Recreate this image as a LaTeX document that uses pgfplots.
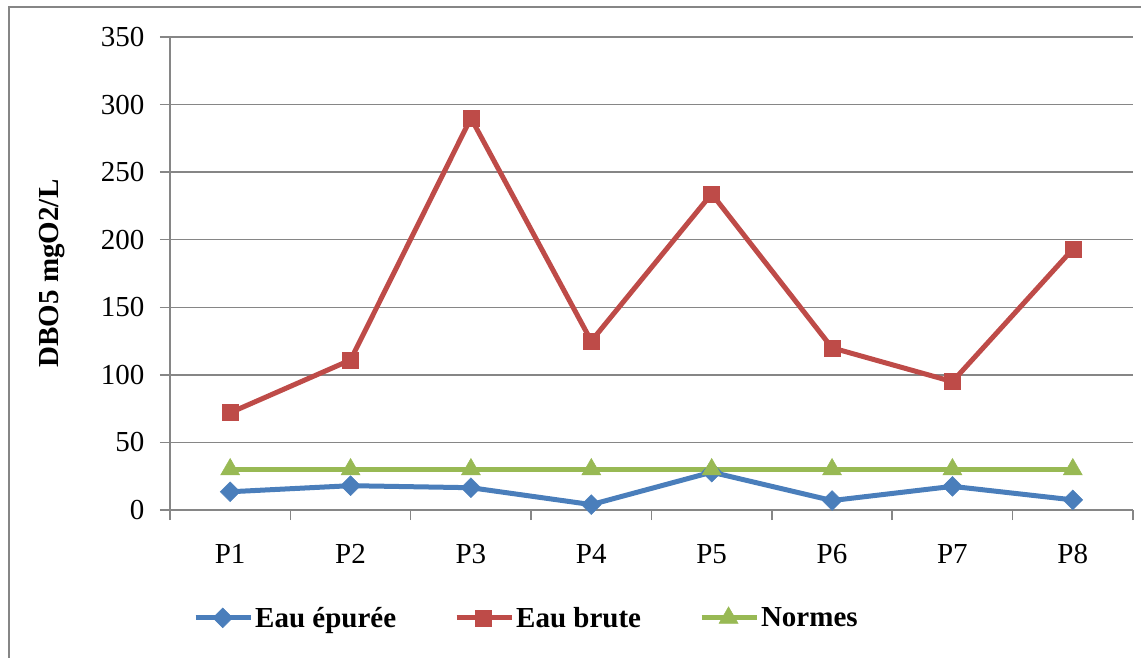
\documentclass[border=0pt]{standalone}
\usepackage{fontspec}
\setmainfont{Liberation Serif}
\usepackage{pgfplots}
\pgfplotsset{compat=1.18}

\definecolor{cBlue}{HTML}{4A7EBB}
\definecolor{cRed}{HTML}{BE4B48}
\definecolor{cGreen}{HTML}{98B954}
\definecolor{cGrid}{HTML}{868686}

\newcommand{\chartfont}{\fontsize{29pt}{34pt}\selectfont}

\begin{document}
\begin{tikzpicture}
% outer chart frame
\draw[cGrid, line width=1.5pt] (9pt,-670pt) -- (9pt,-7pt) -- (1160pt,-7pt);
\begin{axis}[
  at={(170pt,-510pt)}, anchor=south west,
  scale only axis, width=963pt, height=473pt,
  xmin=0.5, xmax=8.5, ymin=0, ymax=350,
  ytick={0,50,...,350},
  xtick={0.5,1.5,...,8.5},
  xticklabels={P1,P2,P3,P4,P5,P6,P7,P8},
  x tick label as interval,
  axis x line*=bottom, axis y line*=left,
  axis line style={-, cGrid, line width=1.5pt},
  tick align=outside,
  major tick length=10pt,
  tick style={cGrid, line width=1.5pt},
  ymajorgrids,
  grid style={cGrid, line width=1.5pt},
  /pgf/number format/assume math mode=true,
  tick label style={font=\chartfont},
  yticklabel style={xshift=-12pt},
  xticklabel style={yshift=-21pt},
  ylabel={\textbf{DBO5 mgO2/L}},
  ylabel style={font=\chartfont, at={(axis description cs:-0.1225,0.5)}, anchor=center},
  legend columns=3,
  legend style={at={(axis description cs:0.0239,-0.228)}, anchor=west,
    draw=none, fill=none, inner sep=0pt, font=\chartfont\bfseries,
    nodes={inner sep=2pt},
    /tikz/every even column/.append style={column sep=56pt}},
  legend image code/.code={%
    \draw[mark repeat=2,mark phase=2,#1] plot coordinates {(0pt,0pt) (27pt,0pt) (55pt,0pt)};},
]
\addplot[cBlue, line width=5pt, mark=square*, mark size=7pt,
  mark options={rotate=45, line width=0.5pt}]
  coordinates {(1,13.5) (2,18) (3,16.5) (4,4) (5,28) (6,7) (7,17.5) (8,7.5)};
\addlegendentry{Eau épurée}
\addplot[cRed, line width=5pt, mark=square*, mark size=8pt,
  mark options={line width=0.5pt}]
  coordinates {(1,72) (2,111) (3,290) (4,125) (5,234) (6,120) (7,95) (8,193)};
\addlegendentry{Eau brute}
\addplot[cGreen, line width=5pt, mark=triangle*, mark size=11pt,
  mark options={line width=0.5pt}]
  coordinates {(1,30) (2,30) (3,30) (4,30) (5,30) (6,30) (7,30) (8,30)};
\addlegendentry{Normes}
\end{axis}
\pgfresetboundingbox
\path[use as bounding box] (0pt,0pt) rectangle (1141pt,-657pt);
\end{tikzpicture}
\end{document}
